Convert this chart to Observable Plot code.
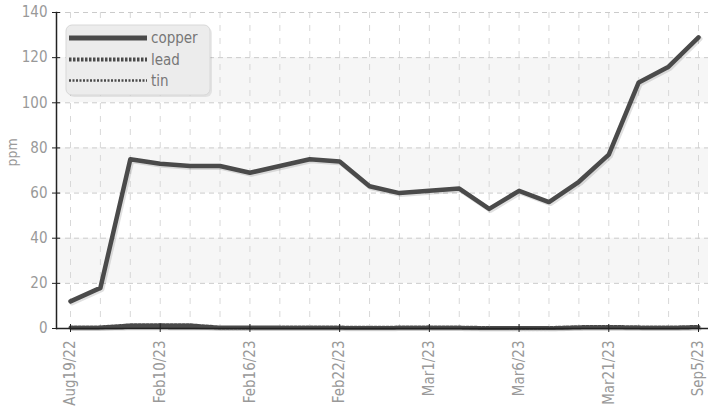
<!DOCTYPE html>
<html>
<head>
<meta charset="utf-8">
<script src="https://cdn.jsdelivr.net/npm/d3@7"></script>
<script src="https://cdn.jsdelivr.net/npm/@observablehq/plot@0.6"></script>
<style>
  html, body { margin: 0; padding: 0; background: #fff; }
  #chart { position: relative; width: 708px; height: 413px; }
</style>
</head>
<body>
<div id="chart"></div>
<script>
// ---- data ----
const tickLabels = ["Aug19/22", "Feb10/23", "Feb16/23", "Feb22/23", "Mar1/23", "Mar6/23", "Mar21/23", "Sep5/23"];
const tickIndex = [0, 3, 6, 9, 12, 15, 18, 21];
const copper = [12, 18, 75, 73, 72, 72, 69, 72, 75, 74, 63, 60, 61, 62, 53, 61, 56, 65, 77, 109, 116, 129];
const lead   = [0.4, 0.5, 1.4, 1.5, 1.4, 0.4, 0.4, 0.4, 0.5, 0.4, 0.3, 0.4, 0.5, 0.4, 0.2, 0.2, 0.2, 0.6, 0.7, 0.5, 0.4, 0.7];
const tin    = [0.2, 0.2, 0.3, 0.3, 0.2, 0.2, 0.2, 0.2, 0.2, 0.2, 0.2, 0.2, 0.2, 0.2, 0.1, 0.1, 0.1, 0.2, 0.2, 0.2, 0.2, 0.3];
const yTicks = [0, 20, 40, 60, 80, 100, 120, 140];
const bandLo = [20, 60, 100];
const bandHi = [40, 80, 120];
const seriesNames = ["copper", "lead", "tin"];

const rows = copper.map((v, i) => ({i, copper: v, lead: lead[i], tin: tin[i]}));
const bands = bandLo.map((lo, k) => ({lo, hi: bandHi[k]}));
const idx = copper.map((_, i) => i);

const lineColor = "#4a4a4a";
const shadow = (key, w, dash) => Plot.line(rows, {x: "i", y: key, stroke: "#000", strokeOpacity: 0.12, strokeWidth: w, strokeDasharray: dash, dx: 1.5, dy: 1.5});

const chart = Plot.plot({
  width: 708, height: 413,
  marginLeft: 56, marginRight: 0, marginTop: 12, marginBottom: 85,
  x: {type: "linear", domain: [0, 21], insetLeft: 14, insetRight: 10},
  y: {domain: [0, 140]},
  style: {fontFamily: "'DejaVu Sans Condensed', 'DejaVu Sans', sans-serif", fontSize: "15px", color: "#999", background: "#fff"},
  marks: [
    Plot.rect(bands, {y1: "lo", y2: "hi", fill: "#f6f6f6"}),
    Plot.ruleX(idx, {x: d => d, stroke: "#d8d8d8", strokeDasharray: "6,7"}),
    Plot.ruleY(yTicks.slice(1), {stroke: "#cbcbcb", strokeDasharray: "5,4"}),
    // shadows
    shadow("tin", 2.5, "2,1.5"),
    shadow("lead", 4, "2.5,1.5"),
    shadow("copper", 5, null),
    // lines
    Plot.line(rows, {x: "i", y: "tin", stroke: lineColor, strokeWidth: 2.5, strokeDasharray: "2,1.5"}),
    Plot.line(rows, {x: "i", y: "lead", stroke: lineColor, strokeWidth: 4, strokeDasharray: "2.5,1.5"}),
    Plot.line(rows, {x: "i", y: "copper", stroke: lineColor, strokeWidth: 4.5, strokeLinejoin: "round"}),
    // axes
    Plot.frame({anchor: "left", stroke: "#222", strokeWidth: 1.5}),
    Plot.ruleY([0], {stroke: "#222", strokeWidth: 1.5}),
    Plot.axisY({ticks: yTicks, tickSize: 4, tickPadding: 5, label: null, stroke: "#222", fill: "#999"}),
    Plot.axisY({ticks: yTicks, tickSize: 4, text: null, label: null, dx: 4, stroke: "#222"}),
    Plot.axisX({ticks: tickIndex, tickFormat: i => tickLabels[tickIndex.indexOf(i)], tickRotate: -90, tickSize: 4, tickPadding: 8, label: null, stroke: "#222", fill: "#999"}),
    Plot.axisX({ticks: tickIndex, tickSize: 4, text: null, label: null, dy: -4, stroke: "#222"}),
    Plot.text(["ppm"], {frameAnchor: "left", dx: -44, dy: -4, rotate: -90, fontSize: 14, fill: "#999"})
  ]
});
document.getElementById("chart").appendChild(chart);

// ---- legend (drawn inside the svg) ----
const svg = d3.select(chart);
const lg = svg.append("g").attr("class", "legend").attr("text-anchor", "start");
lg.append("rect").attr("x", 68).attr("y", 27).attr("width", 144).attr("height", 70).attr("rx", 6)
  .attr("fill", "#000").attr("fill-opacity", 0.08);
lg.append("rect").attr("x", 66).attr("y", 25).attr("width", 144).attr("height", 70).attr("rx", 6)
  .attr("fill", "#ececec").attr("stroke", "#d8d8d8");
const styles = [
  {w: 5, dash: null},
  {w: 4, dash: "2.5,1.5"},
  {w: 2.5, dash: "2,1.5"}
];
const ys = [38, 59.5, 80.5];
seriesNames.forEach((name, k) => {
  lg.append("line").attr("x1", 69).attr("x2", 147).attr("y1", ys[k]).attr("y2", ys[k])
    .attr("stroke", lineColor).attr("stroke-width", styles[k].w)
    .attr("stroke-dasharray", styles[k].dash);
  lg.append("text").attr("x", 151).attr("y", ys[k]).attr("dy", "0.35em")
    .attr("text-anchor", "start")
    .attr("fill", "#777").attr("font-size", 15).text(name);
});
</script>
</body>
</html>
